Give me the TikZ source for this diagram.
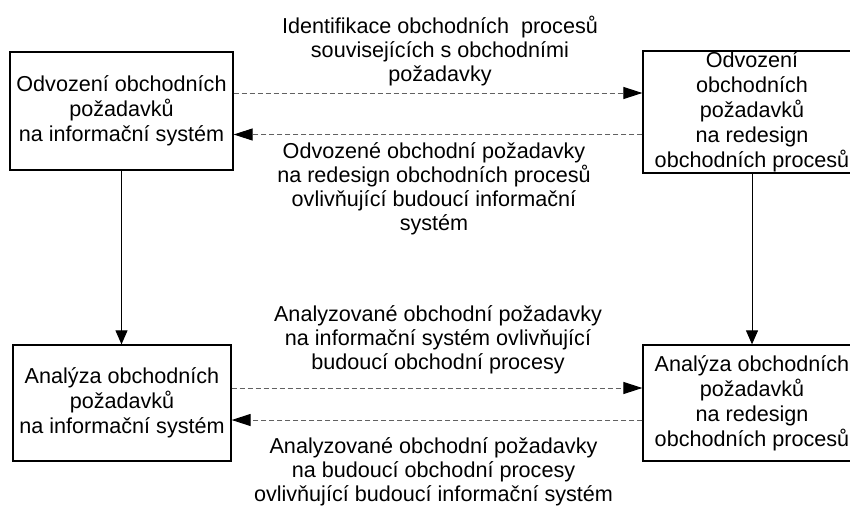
\documentclass[tikz,border=0pt]{standalone}
\usepackage{fontspec}
\setmainfont{Liberation Sans}
\usetikzlibrary{arrows.meta}
\begin{document}
\begin{tikzpicture}[x=1pt,y=-1pt,
  box/.style={draw,line width=1.3pt,inner sep=0pt,align=center,
    font=\fontsize{21.6}{25}\selectfont},
  lbl/.style={inner sep=0pt,align=center,font=\fontsize{21.6}{24}\selectfont},
  dasharrow/.style={draw=black!62,line width=1pt,dash pattern=on 5pt off 3pt,
    -{Triangle[length=19pt,width=12pt,color=black]}},
  vertarrow/.style={draw=black,line width=1pt,
    -{Triangle[length=14pt,width=12pt,color=black]}}]
\useasboundingbox (0,0) rectangle (850,506);
\fill[white] (0,0) rectangle (850,506);
\clip (0,0) rectangle (850,506);

\node[box,minimum width=223pt,minimum height=118pt] (A) at (121.5,111)
  {Odvození obchodních\\požadavků\\na informační systém};
\node[box,minimum width=218pt,minimum height=122pt] (B) at (752,112)
  {Odvození\\obchodních\\požadavků\\na redesign\\obchodních procesů};
\node[box,minimum width=218pt,minimum height=116pt] (C) at (122,403)
  {Analýza obchodních\\požadavků\\na informační systém};
\node[box,minimum width=218pt,minimum height=116pt] (D) at (752,403)
  {Analýza obchodních\\požadavků\\na redesign\\obchodních procesů};

\node[lbl] (L1) at (440,51.3)
  {Identifikace obchodních\ \ procesů\\souvisejících s obchodními\\požadavky};
\node[lbl] (L2) at (434,189)
  {Odvozené obchodní požadavky\\na redesign obchodních procesů\\ovlivňující budoucí informační\\systém};
\node[lbl] (L3) at (438,339.5)
  {Analyzované obchodní požadavky\\na informační systém ovlivňující\\budoucí obchodní procesy};
\node[lbl] (L4) at (433.5,471.5)
  {Analyzované obchodní požadavky\\na budoucí obchodní procesy\\ovlivňující budoucí informační systém};

\draw[dasharrow] ([yshift=18pt]A.east) -- ([yshift=19pt]B.west);
\draw[dasharrow] ([yshift=-22.5pt]B.west) -- ([yshift=-23.5pt]A.east);
\draw[dasharrow] ([yshift=15pt]C.east) -- ([yshift=15pt]D.west);
\draw[dasharrow] ([yshift=-17pt]D.west) -- ([yshift=-17pt]C.east);

\draw[vertarrow] (A.south) -- (A.south |- C.north);
\draw[vertarrow] (B.south) -- (D.north);
\end{tikzpicture}
\end{document}
